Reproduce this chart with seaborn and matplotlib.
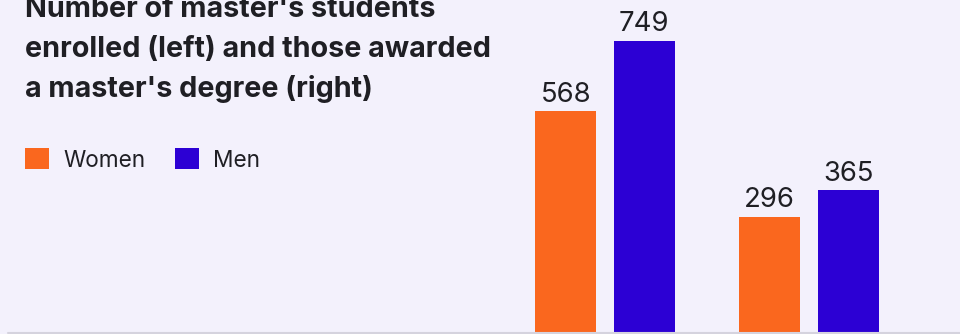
import matplotlib
matplotlib.use("Agg")
import matplotlib.pyplot as plt
import seaborn as sns
import pandas as pd

categories = ["Enrolled", "Awarded"]
groups = ["Women", "Men"]
women = [568, 296]
men = [749, 365]
title_lines = ["Number of master's students",
               "enrolled (left) and those awarded",
               "a master's degree (right)"]

bg = "#f3f1fc"
palette = {"Women": "#fa671e", "Men": "#2c00d4"}
text_color = "#1f1f24"

df = pd.DataFrame({
    "category": categories * 2,
    "gender": ["Women"] * len(categories) + ["Men"] * len(categories),
    "value": women + men,
})

sns.set_theme(style="white")
plt.rcParams["font.family"] = ["Inter", "DejaVu Sans"]

fig = plt.figure(figsize=(9.6, 3.34), dpi=100, facecolor=bg)
ax = fig.add_axes([0, 0, 1, 1])
ax.set_facecolor(bg)

sns.barplot(data=df, x="category", y="value", hue="gender",
            order=categories, hue_order=groups, palette=palette,
            width=0.77, gap=0.22, linewidth=0, errorbar=None,
            saturation=1, ax=ax)

for c in ax.containers:
    ax.bar_label(c, padding=2.6, fontsize=19.8, color=text_color)

ax.set_xlim(-2.966, 1.740)
ax.set_ylim(-5.15, 854.6)
ax.axhline(-2.6, xmin=8 / 960, xmax=1, color="#d5d3de", lw=1.5)
for s in ax.spines.values():
    s.set_visible(False)
ax.set_xticks([])
ax.set_yticks([])
ax.set_xlabel("")
ax.set_ylabel("")

handles, labels = ax.get_legend_handles_labels()
ax.legend(handles, labels, loc="center left",
          bbox_to_anchor=(25 / 960, 1 - 160 / 334), bbox_transform=fig.transFigure,
          ncol=2, frameon=False, fontsize=16.3, handlelength=1.06, handleheight=1.06,
          handletextpad=0.62, columnspacing=1.3, borderpad=0, borderaxespad=0,
          labelcolor=text_color)

baselines = [17.3, 57.3, 96.8]
for line, yb in zip(title_lines, baselines):
    fig.text(25 / 960, 1 - yb / 334, line, fontsize=20.7, fontweight="bold",
             color=text_color, va="baseline", ha="left")

fig.savefig("out.png", dpi=100, facecolor=bg)
